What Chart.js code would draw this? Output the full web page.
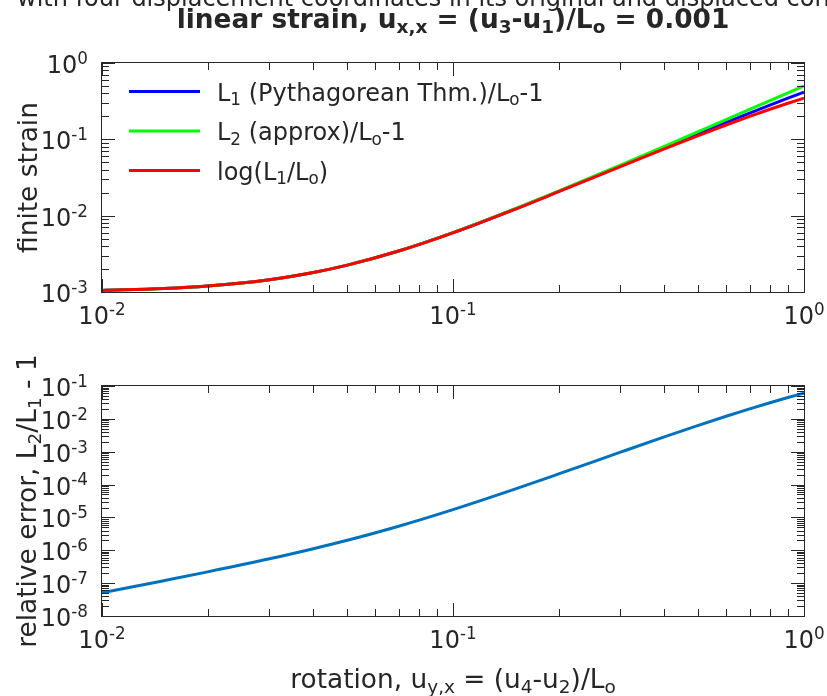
<!DOCTYPE html>
<html lang="en">
<head>
<meta charset="UTF-8">
<title>Finite strain vs rotation</title>
<script src="https://cdn.jsdelivr.net/npm/chart.js"></script>
<style>
  html, body { margin: 0; padding: 0; background: #fff; }
  #wrap { position: relative; width: 827px; height: 696px; overflow: hidden; }
  canvas { position: absolute; left: 0; top: 0; }
</style>
</head>
<body>
<div id="wrap">
  <canvas id="strainChart" width="827" height="696"></canvas>
  <canvas id="errorChart" width="827" height="696"></canvas>
</div>
<script>
// ---- data ----
const rotation = [0.01, 0.015, 0.02, 0.03, 0.04, 0.05, 0.07, 0.1, 0.15, 0.2, 0.3, 0.4, 0.5, 0.6, 0.7, 0.8, 0.9, 1.0];
const strainPythag = [0.00105, 0.00111, 0.00120, 0.00145, 0.00180, 0.00225, 0.00344, 0.00598, 0.0122, 0.0208, 0.0450, 0.0780, 0.119, 0.167, 0.221, 0.281, 0.346, 0.415];
const strainApprox = [0.00105, 0.00111, 0.00120, 0.00145, 0.00180, 0.00225, 0.00345, 0.00600, 0.0123, 0.0210, 0.0460, 0.0810, 0.126, 0.181, 0.246, 0.321, 0.406, 0.501];
const strainLog = [0.00105, 0.00111, 0.00120, 0.00145, 0.00180, 0.00225, 0.00344, 0.00596, 0.0121, 0.0206, 0.0440, 0.0751, 0.112, 0.154, 0.200, 0.248, 0.297, 0.347];
const relError = [5.1e-8, 1.19e-7, 2.2e-7, 5.5e-7, 1.12e-6, 2.02e-6, 5.41e-6, 1.73e-5, 7.27e-5, 2.11e-4, 9.68e-4, 2.82e-3, 6.32e-3, 1.20e-2, 2.01e-2, 3.09e-2, 4.45e-2, 6.08e-2];

// tick labels are 10^exp
const rotationTickExp = ['-2', '-1', '0'];
const strainTickExp = ['-3', '-2', '-1', '0'];
const errorTickExp = ['-8', '-7', '-6', '-5', '-4', '-3', '-2', '-1'];

// text runs: [text, 0 normal | 1 superscript | -1 subscript]
const legendLabels = [
  [['L', 0], ['1', -1], [' (Pythagorean Thm.)/L', 0], ['o', -1], ['-1', 0]],
  [['L', 0], ['2', -1], [' (approx)/L', 0], ['o', -1], ['-1', 0]],
  [['log(L', 0], ['1', -1], ['/L', 0], ['o', -1], [')', 0]]
];
const legendColors = ['#0000ff', '#00ff00', '#ff0000'];

const FONT = '"DejaVu Sans", sans-serif';
const INK = '#262626';

function setFont(ctx, size, bold) {
  ctx.font = (bold ? 'bold ' : '') + size + 'px ' + FONT;
}

function runsWidth(ctx, runs, size, bold) {
  let w = 0;
  runs.forEach(([t, m]) => {
    setFont(ctx, m ? size * 0.7 : size, bold);
    w += ctx.measureText(t).width;
  });
  return w;
}

function drawRuns(ctx, runs, x, y, size, bold, align) {
  const w = runsWidth(ctx, runs, size, bold);
  let cx = align === 'center' ? x - w / 2 : align === 'right' ? x - w : x;
  ctx.textAlign = 'left';
  ctx.textBaseline = 'alphabetic';
  ctx.fillStyle = INK;
  runs.forEach(([t, m]) => {
    setFont(ctx, m ? size * 0.7 : size, bold);
    const dy = m === 1 ? -size * 0.38 : m === -1 ? size * 0.2 : 0;
    ctx.fillText(t, cx, y + dy);
    cx += ctx.measureText(t).width;
  });
}

function drawTicks(ctx, scale, a, horizontal, exps) {
  const decades = exps.map(Number);
  decades.forEach((k, i) => {
    for (let m = 1; m <= 9; m++) {
      if (m > 1 && i === decades.length - 1) break;
      const p = Math.round(scale.getPixelForValue(m * Math.pow(10, k))) + 0.5;
      const len = m === 1 ? 13 : 7;
      ctx.beginPath();
      if (horizontal) {
        ctx.moveTo(p, a.bottom); ctx.lineTo(p, a.bottom - len);
        ctx.moveTo(p, a.top); ctx.lineTo(p, a.top + len);
      } else {
        ctx.moveTo(a.left, p); ctx.lineTo(a.left + len, p);
        ctx.moveTo(a.right, p); ctx.lineTo(a.right - len, p);
      }
      ctx.stroke();
    }
  });
}

// MATLAB-like box, inward ticks, 10^n labels and rich-text titles
const matlabAxes = {
  id: 'matlabAxes',
  afterDraw(chart, args, opts) {
    const { ctx, chartArea: a } = chart;
    const x = chart.scales.x, y = chart.scales.y;
    ctx.save();
    ctx.strokeStyle = INK;
    ctx.lineWidth = 1;
    ctx.strokeRect(a.left - 0.5, a.top - 0.5, a.right - a.left + 1, a.bottom - a.top + 1);
    drawTicks(ctx, x, a, true, opts.xExp);
    drawTicks(ctx, y, a, false, opts.yExp);

    opts.xExp.forEach(e => {
      drawRuns(ctx, [['10', 0], [e, 1]], x.getPixelForValue(Number('1e' + e)), a.bottom + 32, 24, false, 'center');
    });
    opts.yExp.forEach(e => {
      drawRuns(ctx, [['10', 0], [e, 1]], a.left - 14, y.getPixelForValue(Number('1e' + e)) + 10, 24, false, 'right');
    });

    if (opts.xTitle) {
      drawRuns(ctx, opts.xTitle, (a.left + a.right) / 2, opts.xTitleY, 26.4, false, 'center');
    }
    ctx.save();
    ctx.translate(opts.yTitleX, (a.top + a.bottom) / 2);
    ctx.rotate(-Math.PI / 2);
    drawRuns(ctx, opts.yTitle, 0, 0, 26.4, false, 'center');
    ctx.restore();

    if (opts.legend) {
      opts.legend.forEach((runs, i) => {
        const ly = 91.5 + i * 39.5;
        ctx.strokeStyle = legendColors[i];
        ctx.lineWidth = 3;
        ctx.beginPath();
        ctx.moveTo(129, ly);
        ctx.lineTo(200, ly);
        ctx.stroke();
        drawRuns(ctx, runs, 217, ly + 9, 24, false, 'left');
      });
    }

    if (opts.title) {
      setFont(ctx, 24, false);
      ctx.fillStyle = INK;
      ctx.textAlign = 'left';
      ctx.fillText('with four displacement coordinates in its original and displaced configuration', 17, 6);
      drawRuns(ctx, opts.title, (a.left + a.right) / 2, 28, 26.4, true, 'center');
    }
    ctx.restore();
  }
};

function toPoints(ys) {
  return rotation.map((r, i) => ({ x: r, y: ys[i] }));
}

function lineSet(ys, color, order) {
  return {
    data: toPoints(ys),
    borderColor: color,
    borderWidth: 3,
    pointRadius: 0,
    cubicInterpolationMode: 'monotone',
    clip: false,
    order: order
  };
}

function baseOptions(padding, yMin, yMax, axes) {
  return {
    responsive: false,
    animation: false,
    events: [],
    layout: { padding: padding, autoPadding: false },
    scales: {
      x: { type: 'logarithmic', min: 0.01, max: 1, display: false },
      y: { type: 'logarithmic', min: yMin, max: yMax, display: false }
    },
    plugins: {
      legend: { display: false },
      tooltip: { enabled: false },
      matlabAxes: axes
    }
  };
}

new Chart(document.getElementById('strainChart'), {
  type: 'line',
  data: {
    datasets: [
      lineSet(strainPythag, legendColors[0], 3),
      lineSet(strainApprox, legendColors[1], 2),
      lineSet(strainLog, legendColors[2], 1)
    ]
  },
  options: baseOptions({ left: 102, right: 23, top: 63, bottom: 404 }, 1e-3, 1, {
    xExp: rotationTickExp,
    yExp: strainTickExp,
    yTitle: [['finite strain', 0]],
    yTitleX: 37,
    legend: legendLabels,
    title: [['linear strain, u', 0], ['x,x', -1], [' = (u', 0], ['3', -1], ['-u', 0], ['1', -1], [')/L', 0], ['o', -1], [' = 0.001', 0]]
  }),
  plugins: [matlabAxes]
});

new Chart(document.getElementById('errorChart'), {
  type: 'line',
  data: {
    datasets: [lineSet(relError, '#0072bd', 1)]
  },
  options: baseOptions({ left: 102, right: 23, top: 386, bottom: 80 }, 1e-8, 1e-1, {
    xExp: rotationTickExp,
    yExp: errorTickExp,
    xTitle: [['rotation, u', 0], ['y,x', -1], [' = (u', 0], ['4', -1], ['-u', 0], ['2', -1], [')/L', 0], ['o', -1]],
    xTitleY: 688,
    yTitle: [['relative error, L', 0], ['2', -1], ['/L', 0], ['1', -1], [' - 1', 0]],
    yTitleX: 36
  }),
  plugins: [matlabAxes]
});
</script>
</body>
</html>
